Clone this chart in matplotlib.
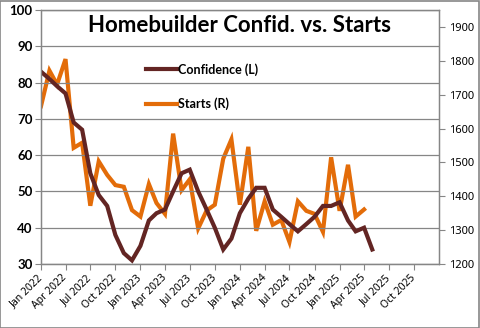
import pandas as pd
import matplotlib
matplotlib.use("Agg")
import matplotlib.pyplot as plt
import matplotlib.dates as mdates
import matplotlib.transforms as mtransforms
from matplotlib.patches import Rectangle

# NAHB homebuilder confidence (left axis), Jan 2022 - May 2025
confidence = [83, 81, 79, 77, 69, 67, 55, 49, 46, 38, 33, 31,
              35, 42, 44, 45, 50, 55, 56, 50, 45, 40, 34, 37,
              44, 48, 51, 51, 45, 43, 41, 39, 41, 43, 46, 46,
              47, 42, 39, 40, 34]
# housing starts, thousands SAAR (right axis), Jan 2022 - Apr 2025
starts = [1666, 1771, 1730, 1805, 1543, 1558, 1372, 1503, 1463, 1433, 1428, 1359,
          1340, 1436, 1380, 1348, 1585, 1418, 1450, 1305, 1358, 1375, 1511, 1568,
          1375, 1546, 1298, 1385, 1316, 1330, 1265, 1385, 1357, 1348, 1295, 1515,
          1357, 1493, 1340, 1361]

conf_dates = pd.date_range("2022-01-01", periods=len(confidence), freq="MS")
start_dates = pd.date_range("2022-01-01", periods=len(starts), freq="MS")
tick_dates = pd.date_range("2022-01-01", "2025-10-01", freq="QS")

conf_color = "#632523"
starts_color = "#E36C09"
grid_color = "#868686"

fig = plt.figure(figsize=(4.8, 3.28), dpi=100)
ax = fig.add_axes([41 / 480, 1 - 264 / 328, 398 / 480, 254 / 328])
ax2 = ax.twinx()

l1, = ax.plot(conf_dates, confidence, color=conf_color, lw=3.0,
              solid_joinstyle="miter", label="Confidence (L)")
l2, = ax2.plot(start_dates, starts, color=starts_color, lw=3.0,
               solid_joinstyle="miter", label="Starts (R)")
ax.set_zorder(ax2.get_zorder() + 1)
ax.patch.set_visible(False)

ax.set_xlim(pd.Timestamp("2022-01-01"), pd.Timestamp("2026-01-01"))
ax.set_ylim(30, 100)
ax.set_yticks(range(30, 101, 10))
ax2.set_ylim(1200, 1950)
ax2.set_yticks(range(1200, 1901, 100))

ax.set_xticks(tick_dates)
ax.xaxis.set_major_formatter(mdates.DateFormatter("%b %Y"))
shift = mtransforms.ScaledTranslation(4 / 100, 0, fig.dpi_scale_trans)
for lab in ax.get_xticklabels():
    lab.set_rotation(45)
    lab.set_ha("right")
    lab.set_va("center")
    lab.set_rotation_mode("anchor")
    lab.set_fontsize(7.5)
    lab.set_family("Noto Sans")
    lab.set_transform(lab.get_transform() + shift)

ax.grid(axis="y", color=grid_color, lw=0.9)
for a in (ax, ax2):
    for s in a.spines.values():
        s.set_color(grid_color)
        s.set_linewidth(0.9)
ax.tick_params(axis="y", labelsize=9.5, length=4, color=grid_color, pad=2)
for lab in ax.get_yticklabels():
    lab.set_fontweight("bold")
    lab.set_family("Lato")
ax.tick_params(axis="x", length=4, color=grid_color, pad=5)
ax2.tick_params(axis="y", labelsize=8, length=4, color=grid_color, pad=3)
for lab in ax2.get_yticklabels():
    lab.set_family("Noto Sans")

fig.text(239 / 480, 1 - 26 / 328, "Homebuilder Confid. vs. Starts",
         ha="center", va="center", fontsize=16, fontweight="bold", family="Lato")

fig.legend(handles=[l1, l2], loc="upper left",
           bbox_to_anchor=(146 / 480, 1 - 63 / 328), frameon=False,
           prop={"family": "Lato", "weight": "bold", "size": 9},
           handlelength=2.5, handletextpad=0.1, labelspacing=1.75,
           borderpad=0, borderaxespad=0)

fig.patches.append(Rectangle((0.001, 0.001), 0.997, 0.997, transform=fig.transFigure,
                             fill=False, edgecolor=grid_color, lw=1.2))

fig.savefig("out.png", dpi=100)
